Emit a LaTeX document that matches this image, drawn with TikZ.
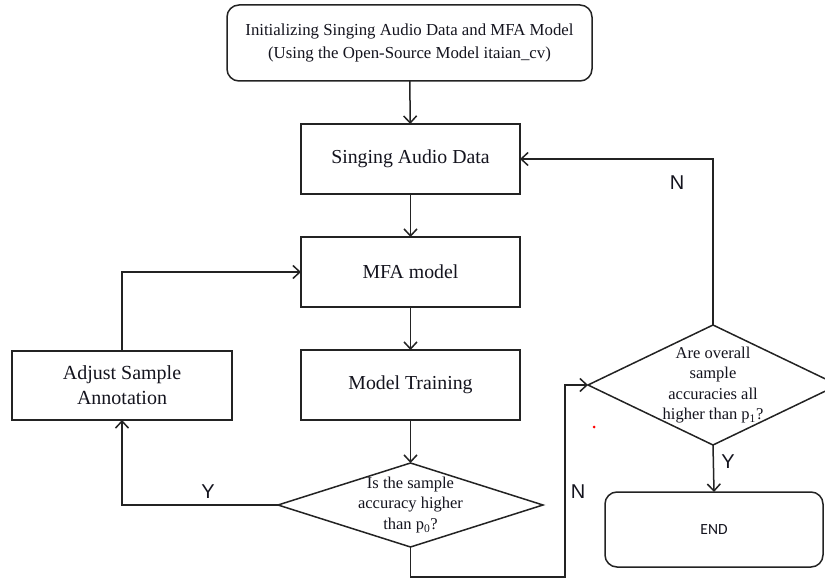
\documentclass[tikz,border=0pt]{standalone}
\usepackage{fontspec}
\setmainfont{Liberation Serif}
\newfontfamily\sansf{Liberation Sans}
\newfontfamily\calf{Carlito}
\usetikzlibrary{shapes.geometric,arrows.meta}
\definecolor{ln}{RGB}{35,35,35}
\definecolor{tx}{RGB}{20,20,30}
\tikzset{
  box/.style={draw=ln, line width=1.5pt, rectangle, inner sep=0pt, outer sep=0pt, text=tx, align=center},
  rbox/.style={box, rounded corners=12pt},
  dia/.style={draw=ln, line width=1.5pt, diamond, inner sep=0pt, outer sep=0pt},
  dtext/.style={text=tx, align=center, font=\fontsize{16.5}{20.5}\selectfont},
  arr/.style={draw=ln, line width=1.5pt, -{Straight Barb[length=7pt,width=13pt,line width=1.5pt]}},
  yn/.style={text=tx, font=\sansf\fontsize{20}{24}\selectfont}
}
\begin{document}
\begin{tikzpicture}[x=1pt,y=-1pt]
\useasboundingbox (0,0) rectangle (825,580);
\fill[white] (0,0) rectangle (825,580);
% nodes
\node[rbox, minimum width=365pt, minimum height=76pt, font=\fontsize{16.8}{23}\selectfont] (top) at (409.5,43)
  {Initializing Singing Audio Data and MFA Model\\(Using the Open-Source Model itaian\_cv)};
\node[box, minimum width=219pt, minimum height=70pt, font=\fontsize{19.8}{24}\selectfont] (sing) at (410.5,159) {Singing Audio Data};
\node[box, minimum width=219pt, minimum height=70pt, font=\fontsize{19.8}{24}\selectfont] (mfa) at (410.5,272) {MFA model};
\node[box, minimum width=219pt, minimum height=70pt, font=\fontsize{19.8}{24}\selectfont] (train) at (410.5,385) {Model Training};
\node[box, minimum width=220pt, minimum height=69pt, font=\fontsize{20}{25}\selectfont] (adj) at (122,385.5) {Adjust Sample\\Annotation};
\node[dia, minimum width=265pt, minimum height=84pt] (d1) at (410.5,505) {};
\node[dtext] (d1t) at (d1.center) {Is the sample\\accuracy higher\\than p\textsubscript{0}?};
\node[dia, minimum width=250pt, minimum height=120pt] (d2) at (713,385) {};
\node[dtext] (d2t) at (713,385) {Are overall\\sample\\accuracies all\\higher than p\textsubscript{1}?};
\node[rbox, minimum width=218pt, minimum height=75pt, font=\calf\fontsize{15.5}{18}\selectfont] (end) at (714,529.5) {END};
\coordinate (c1) at (565,577);
% connectors
\draw[arr] (top) -- (sing);
\draw[arr] (sing) -- (mfa);
\draw[arr] (mfa) -- (train);
\draw[arr] (train) -- (d1.north);
\draw[arr] (d1.west) -| (adj.south);
\draw[arr] (adj.north) |- (mfa.west);
\draw[arr] (d1.south) |- (c1) |- (d2.west);
\draw[arr] (d2.north) |- (sing.east);
\draw[arr] (d2.south) -- (end.north);
% labels
\node[yn] (ly1) at (208,492) {Y};
\node[yn] (ln1) at (578,492) {N};
\node[yn] (ln2) at (677,183) {N};
\node[yn] (ly2) at (728,462) {Y};
\fill[red] (594,427) circle (1.5pt);
\end{tikzpicture}
\end{document}
